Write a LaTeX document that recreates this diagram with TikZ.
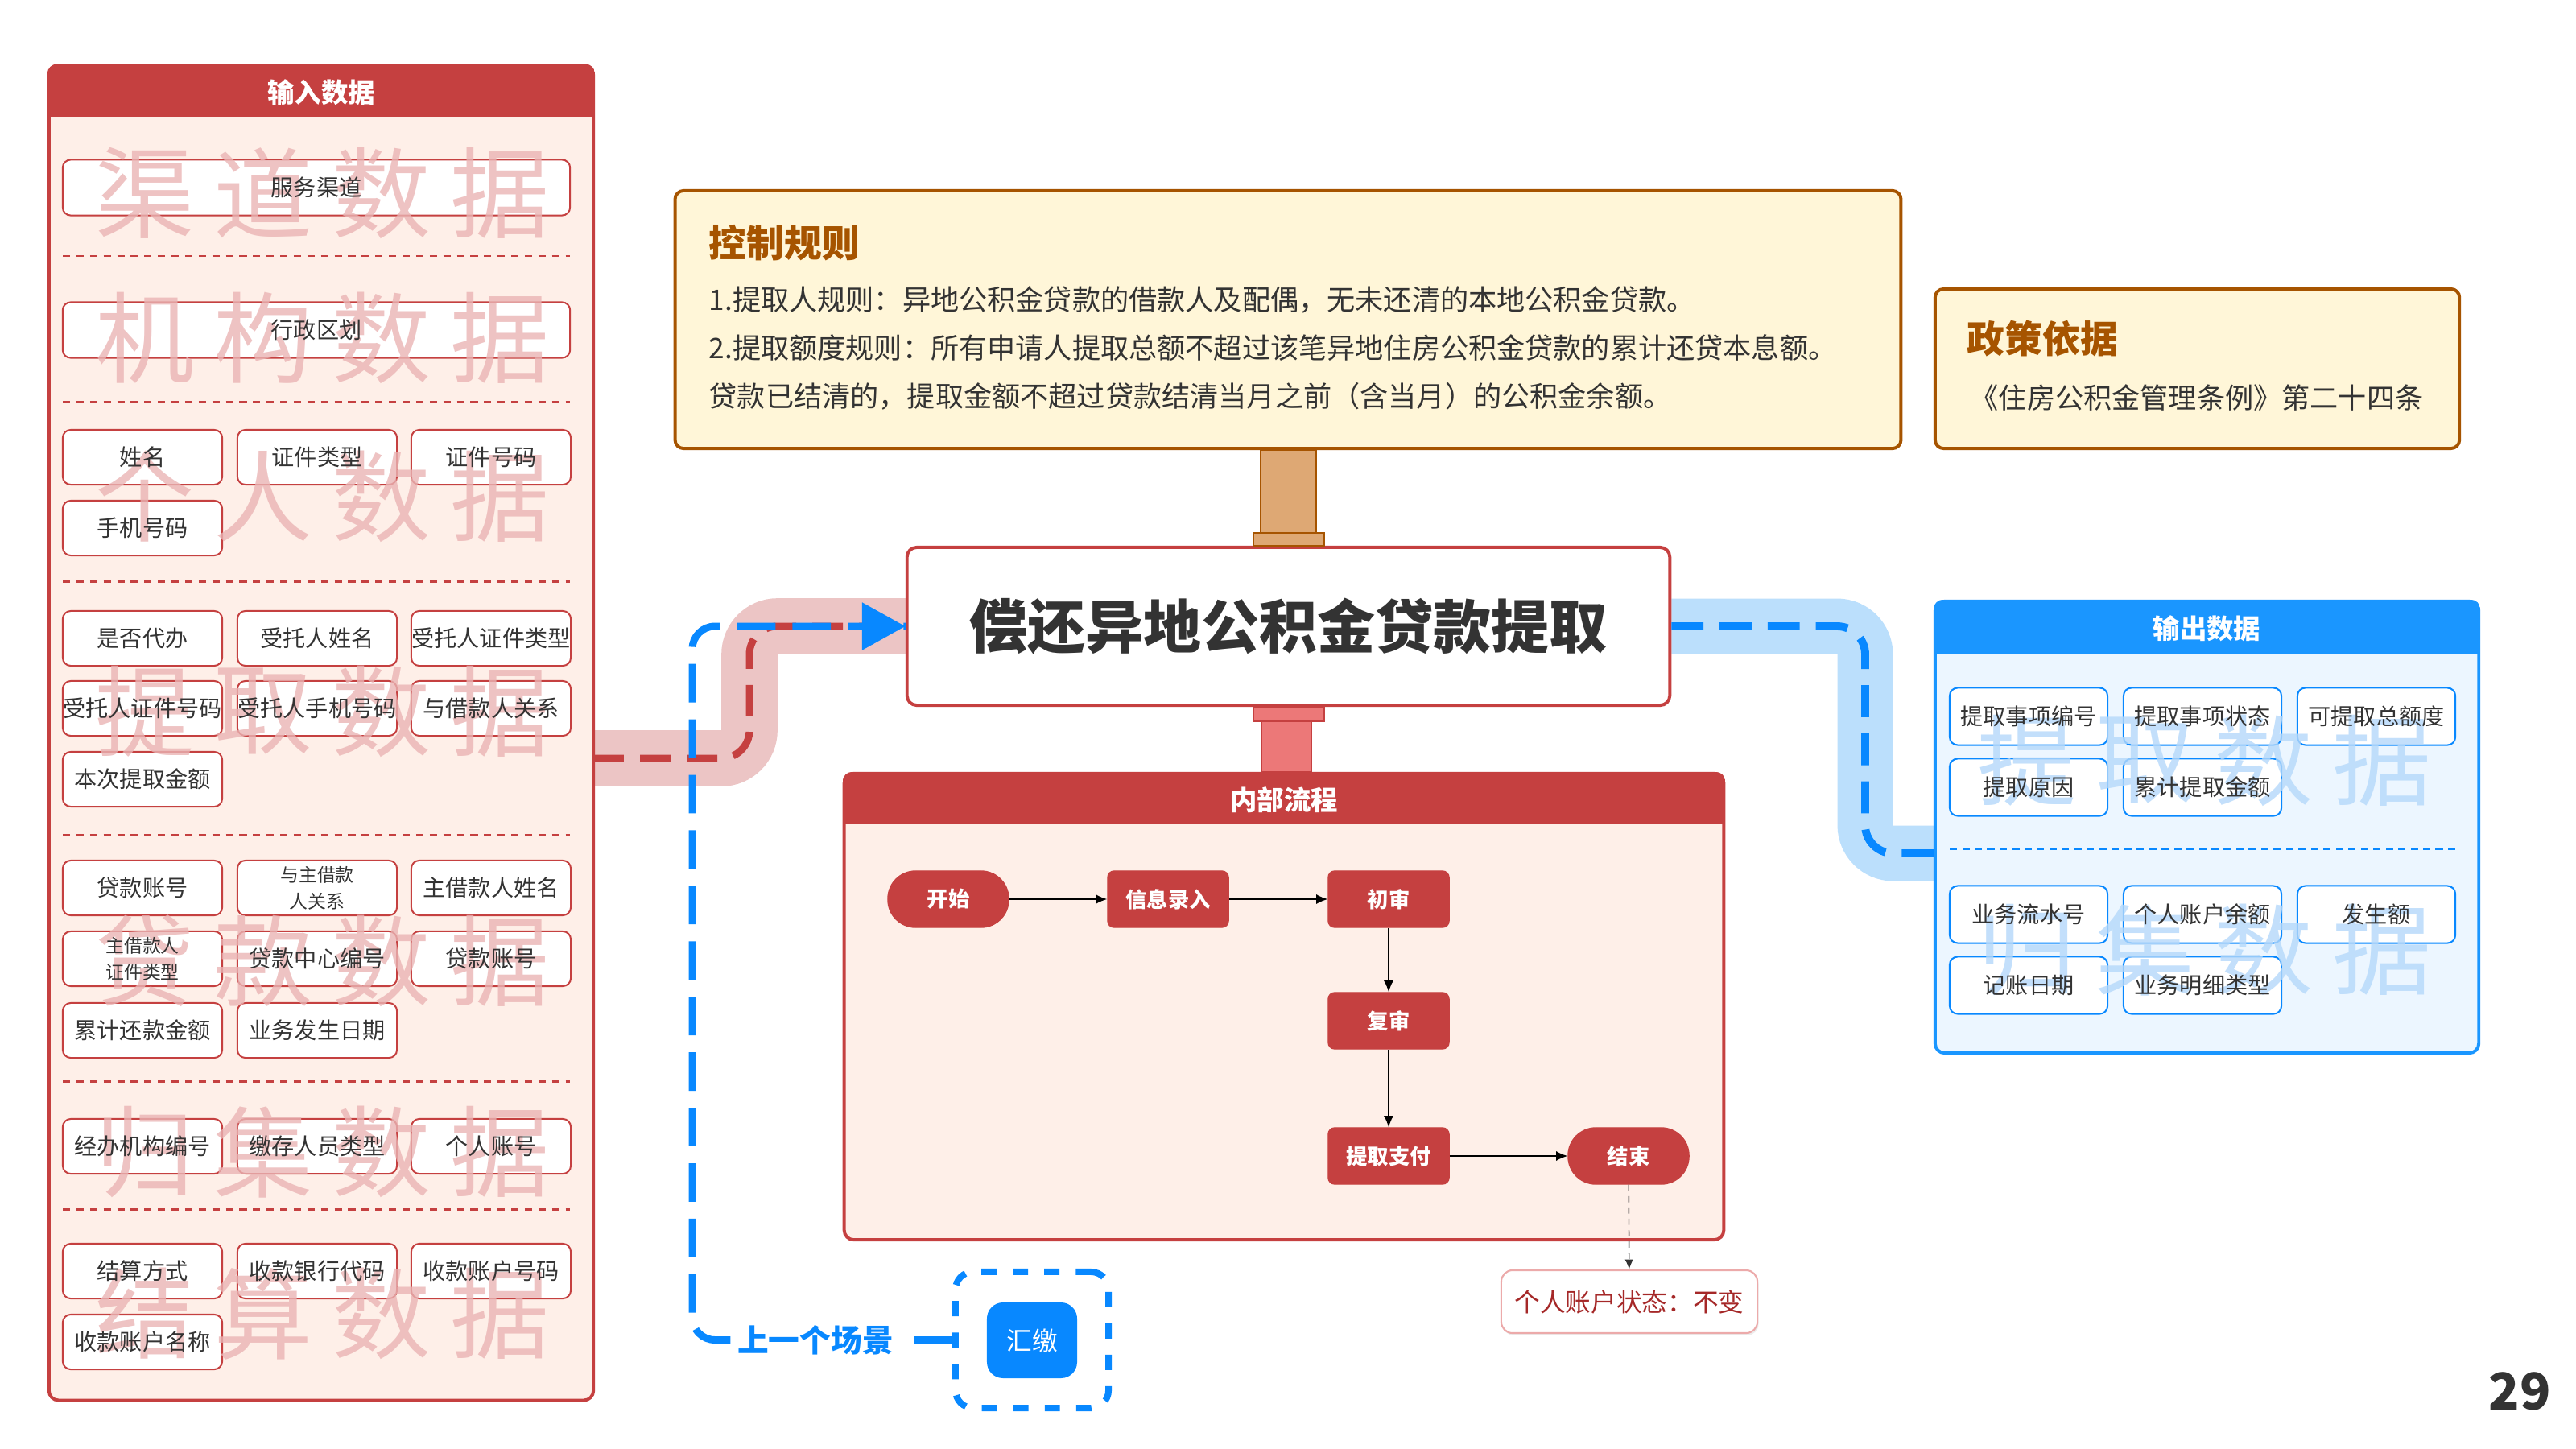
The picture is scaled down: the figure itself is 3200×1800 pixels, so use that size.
\documentclass[tikz,border=0pt]{standalone}
\usepackage{fontspec}
\setmainfont{Noto Sans CJK SC}
\usetikzlibrary{arrows.meta,calc,shadows}
\pgfdeclarelayer{bg}
\pgfsetlayers{bg,main}
\definecolor{cred}{RGB}{197,64,64}
\definecolor{cpeach}{RGB}{254,239,232}
\definecolor{cband}{RGB}{236,197,197}
\definecolor{cwmr}{RGB}{234,180,180}
\definecolor{cblue}{RGB}{8,136,255}
\definecolor{chead}{RGB}{26,150,255}
\definecolor{cbband}{RGB}{187,223,252}
\definecolor{cbfill}{RGB}{236,246,255}
\definecolor{cwmb}{RGB}{180,216,250}
\definecolor{ctan}{RGB}{222,168,116}
\definecolor{cbrown}{RGB}{166,84,0}
\definecolor{ccream}{RGB}{255,246,216}
\definecolor{csalmon}{RGB}{236,120,120}
\definecolor{cdark}{RGB}{51,51,51}
\definecolor{cstat}{RGB}{165,40,40}
\definecolor{cstatb}{RGB}{236,170,170}
\newcommand\fsz[2]{\fontsize{#1}{#2}\selectfont}
\begin{document}
\begin{tikzpicture}[x=0.01cm,y=-0.01cm,
  ibox/.style={draw=cred, fill=white, line width=0.57pt, rounded corners=2.8pt, minimum width=1.98cm, minimum height=0.68cm, inner sep=0pt},
  wbox/.style={ibox, minimum width=6.30cm, minimum height=0.69cm},
  obox/.style={draw=cblue, fill=white, line width=0.57pt, rounded corners=2.8pt, minimum width=1.96cm, minimum height=0.71cm, inner sep=0pt},
  itext/.style={text=cdark, font=\fsz{8pt}{10pt}, inner sep=0pt, align=center},
  stext/.style={text=cdark, font=\fsz{6.5pt}{9.4pt}, inner sep=0pt, align=center},
  wml/.style={text=cwmr, font=\fsz{35pt}{40pt}, inner sep=0pt, opacity=0.8},
  wmb/.style={text=cwmb, font=\fsz{35pt}{40pt}, inner sep=0pt, opacity=0.8},
  sepl/.style={cred, line width=0.85pt, dash pattern=on 2.6pt off 2.2pt},
  sepb/.style={cblue, line width=0.85pt, dash pattern=on 2.6pt off 1.8pt},
  panel/.style={line width=1.13pt, rounded corners=3.4pt, inner sep=0pt},
  head/.style={text=white, font=\fsz{9.5pt}{11pt}\bfseries, inner sep=0pt},
  flow/.style={fill=cred, draw=cred, text=white, font=\fsz{7.5pt}{9pt}\bfseries, minimum width=1.5cm, minimum height=0.7cm, inner sep=0pt, rounded corners=2.3pt},
  term/.style={flow, rounded corners=9.8pt},
  farrow/.style={draw=black, line width=0.4pt, -{Latex[length=4pt,width=3.4pt]}},
  note/.style={fill=ccream, draw=cbrown, line width=1.13pt, rounded corners=3pt, inner sep=0pt},
  notetitle/.style={text=cbrown, font=\fsz{13.3pt}{15pt}\bfseries, inner sep=0pt, anchor=west},
  notetext/.style={text=cdark, font=\fsz{10pt}{12pt}, inner sep=0pt, anchor=west},
]
\useasboundingbox (0,0) rectangle (3200,1800);
\begin{pgfonlayer}{bg}
\fill[white] (0,0) rectangle (3200,1800);
\end{pgfonlayer}

% ---------------- input panel ----------------
\node[panel, draw=cred, fill=cpeach, minimum width=6.76cm, minimum height=16.57cm] (inpanel) at (399,910.5) {};
\begin{scope}
\clip[rounded corners=3.4pt] (inpanel.north west) rectangle (inpanel.south east);
\fill[cred] (inpanel.north west) rectangle ($(inpanel.north east)+(0,65)$);
\end{scope}
\node[head] (inhead) at (399,115) {输入数据};

\node[wbox] (b01) at (393,233) {};
\node[wbox] (b02) at (393,410) {};
\foreach \nm/\x/\y in {b03/177/568, b04/394/568, b05/610/568, b06/177/656,
  b07/177/793, b08/394/793, b09/610/793, b10/177/880, b11/394/880, b12/610/880, b13/177/968,
  b14/177/1103, b15/394/1103, b16/610/1103, b17/177/1191, b18/394/1191, b19/610/1191,
  b20/177/1280, b21/394/1280, b22/177/1424, b23/394/1424, b24/610/1424,
  b25/177/1579, b26/394/1579, b27/610/1579, b28/177/1667}
  {\node[ibox] (\nm) at (\x,\y) {};}

\foreach \y/\chA/\chB/\chC/\chD [count=\i] in {240/渠/道/数/据, 420/机/构/数/据, 617/个/人/数/据, 884/提/取/数/据, 1194/贷/款/数/据, 1431/归/集/数/据, 1632/结/算/数/据}
{
  \node[wml] (wl\i a) at (180,\y) {\chA};
  \node[wml] (wl\i b) at (327,\y) {\chB};
  \node[wml] (wl\i c) at (474,\y) {\chC};
  \node[wml] (wl\i d) at (621,\y) {\chD};
}

\foreach \nm/\txt in {b01/服务渠道, b02/行政区划, b03/姓名, b04/证件类型, b05/证件号码, b06/手机号码,
  b07/是否代办, b08/受托人姓名, b09/受托人证件类型, b10/受托人证件号码, b11/受托人手机号码, b12/与借款人关系, b13/本次提取金额,
  b14/贷款账号, b16/主借款人姓名, b18/贷款中心编号, b19/贷款账号,
  b20/累计还款金额, b21/业务发生日期, b22/经办机构编号, b23/缴存人员类型, b24/个人账号,
  b25/结算方式, b26/收款银行代码, b27/收款账户号码, b28/收款账户名称}
  {\node[itext] (\nm t) at (\nm) {\txt};}
\node[stext] (b15t) at (b15) {与主借款\\人关系};
\node[stext] (b17t) at (b17) {主借款人\\证件类型};

\draw[sepl] (78,318) -- (708,318);
\draw[sepl] (78,499) -- (708,499);
\draw[sepl] (78,722) -- (708,722);
\draw[sepl] (78,1037) -- (708,1037);
\draw[sepl] (78,1343) -- (708,1343);
\draw[sepl] (78,1502) -- (708,1502);

% ---------------- rules and policy ----------------
\node[note, minimum width=15.22cm, minimum height=3.2cm] (rules) at (1600,397) {};
\node[notetitle] (rulest) at (880,302) {控制规则};
\node[notetext] (rule1) at (880,372) {1.提取人规则：异地公积金贷款的借款人及配偶，无未还清的本地公积金贷款。};
\node[notetext] (rule2) at (880,432) {2.提取额度规则：所有申请人提取总额不超过该笔异地住房公积金贷款的累计还贷本息额。};
\node[notetext] (rule3) at (880,492) {贷款已结清的，提取金额不超过贷款结清当月之前（含当月）的公积金余额。};

\node[note, minimum width=6.51cm, minimum height=1.98cm] (policy) at (2729.5,458) {};
\node[notetitle] (policyt) at (2443,421) {政策依据};
\node[notetext] (policy1) at (2447,494) {《住房公积金管理条例》第二十四条};

% ---------------- title ----------------
\node[draw=cred, fill=white, line width=1.13pt, rounded corners=3.4pt, minimum width=9.47cm, minimum height=1.96cm, inner sep=0pt, text=cdark, font=\fsz{20.5pt}{24pt}\bfseries] (title) at (1600.5,778) {偿还异地公积金贷款提取};

% ---------------- internal process ----------------
\node[panel, draw=cred, fill=cpeach, minimum width=10.92cm, minimum height=5.79cm] (intpanel) at (1595,1250.5) {};
\begin{scope}
\clip[rounded corners=3.4pt] (intpanel.north west) rectangle (intpanel.south east);
\fill[cred] (intpanel.north west) rectangle ($(intpanel.north east)+(0,65)$);
\end{scope}
\node[head] (inthead) at (1595,994) {内部流程};

\node[term] (start) at (1178,1117) {开始};
\node[flow] (info) at (1451,1117) {信息录入};
\node[flow] (cs) at (1725,1117) {初审};
\node[flow] (fs) at (1725,1268) {复审};
\node[flow] (zf) at (1725,1436) {提取支付};
\node[term] (end) at (2023,1436) {结束};
\draw[farrow] (start) -- (info);
\draw[farrow] (info) -- (cs);
\draw[farrow] (cs) -- (fs);
\draw[farrow] (fs) -- (zf);
\draw[farrow] (zf) -- (end);

\node[draw=cstatb, fill=white, line width=0.6pt, rounded corners=4pt, minimum width=3.18cm, minimum height=0.78cm, inner sep=0pt, text=cstat, font=\fsz{9pt}{11pt}, drop shadow={shadow xshift=0.4pt, shadow yshift=-0.8pt, opacity=0.15}] (status) at (2024,1617) {个人账户状态：不变};
\draw[draw=cdark, line width=0.4pt, dash pattern=on 2.2pt off 1.8pt, -{Latex[length=3.5pt,width=3pt]}] (end) -- (status);

% ---------------- output panel ----------------
\node[panel, draw=chead, fill=cbfill, minimum width=6.75cm, minimum height=5.61cm] (outpanel) at (2741.5,1027.5) {};
\begin{scope}
\clip[rounded corners=3.4pt] (outpanel.north west) rectangle (outpanel.south east);
\fill[chead] (outpanel.north west) rectangle ($(outpanel.north east)+(0,68)$);
\end{scope}
\node[head] (outhead) at (2741.5,781) {输出数据};

\foreach \nm/\x/\y in {o1/2520/890, o2/2736/890, o3/2952/890, o4/2520/978, o5/2736/978,
  o6/2520/1136, o7/2736/1136, o8/2952/1136, o9/2520/1224, o10/2736/1224}
  {\node[obox] (\nm) at (\x,\y) {};}
\foreach \y/\chA/\chB/\chC/\chD [count=\i] in {945/提/取/数/据, 1180/归/集/数/据}
{
  \node[wmb] (wr\i a) at (2518,\y) {\chA};
  \node[wmb] (wr\i b) at (2665,\y) {\chB};
  \node[wmb] (wr\i c) at (2812,\y) {\chC};
  \node[wmb] (wr\i d) at (2959,\y) {\chD};
}
\foreach \nm/\txt in {o1/提取事项编号, o2/提取事项状态, o3/可提取总额度, o4/提取原因, o5/累计提取金额,
  o6/业务流水号, o7/个人账户余额, o8/发生额, o9/记账日期, o10/业务明细类型}
  {\node[itext] (\nm t) at (\nm) {\txt};}
\draw[sepb] (2422,1054) -- (3050,1054);

% ---------------- previous scene ----------------
\node[draw=cblue, line width=2.27pt, dash pattern=on 5.4pt off 5.7pt, rounded corners=6.2pt, minimum width=1.90cm, minimum height=1.69cm, inner sep=0pt] (hjbox) at (1282,1664.5) {};
\node[fill=cblue, rounded corners=5.7pt, minimum width=1.12cm, minimum height=0.94cm, inner sep=0pt, text=white, font=\fsz{9pt}{11pt}] (hj) at (1282,1665) {汇缴};

% ---------------- connectors ----------------
\coordinate (inout) at (737,942);
\coordinate (outin) at (2405,1060);
\coordinate (rbend1) at (931,942);
\coordinate (rbend2) at (931,778);
\coordinate (bbend1) at (2317,778);
\coordinate (bbend2) at (2317,1060);
\coordinate (lbend1) at (860,1664.5);
\coordinate (lbend2) at (860,778);
\begin{pgfonlayer}{bg}
\draw[cband, line width=19.8pt, rounded corners=9.9pt] (inout) -- (rbend1) -- (rbend2) -- (title.west);
\draw[cbband, line width=19.6pt, rounded corners=9.9pt] (title.east) -- (bbend1) -- (bbend2) -- (outin);
\end{pgfonlayer}
\draw[cred, line width=2.55pt, dash pattern=on 10.8pt off 5.7pt, rounded corners=9.9pt] (inout) -- (rbend1) -- (rbend2) -- (title.west);
\draw[cblue, line width=2.8pt, dash pattern=on 11.3pt off 5.7pt, rounded corners=9.9pt] (title.east) -- (bbend1) -- (bbend2) -- (outin);
\draw[cblue, line width=2.55pt, dash pattern=on 13.6pt off 6pt, rounded corners=8pt] (hjbox.west) -- (lbend1) -- (lbend2) -- (title.west);
\coordinate (arrstart) at ($(title.west)+(-60,0)$);
\draw[cblue, line width=2.55pt, -{Triangle[length=15.3pt,width=16.2pt]}] (arrstart) -- (title.west);
\node[fill=white, text=cblue, font=\fsz{11pt}{13pt}\bfseries, inner sep=2.5pt] (prev) at (1013,1665) {上一个场景};

\filldraw[fill=ctan, draw=cbrown, line width=0.57pt] ($(rules.south)+(-34,0)$) rectangle ($(title.north)+(34,-16)$);
\filldraw[fill=ctan, draw=cbrown, line width=0.57pt] ($(title.north)+(-44,-16)$) rectangle ($(title.north)+(44,0)$);
\filldraw[fill=csalmon, draw=cred, line width=0.57pt] ($(title.south)+(-34,18)$) rectangle ($(intpanel.north)+(34,0)$);
\filldraw[fill=csalmon, draw=cred, line width=0.57pt] ($(title.south)+(-44,0)$) rectangle ($(title.south)+(44,18)$);

\node[text=cdark, font=\fsz{18pt}{20pt}\bfseries, inner sep=0pt] (pg) at (3130,1729) {29};
\end{tikzpicture}
\end{document}
